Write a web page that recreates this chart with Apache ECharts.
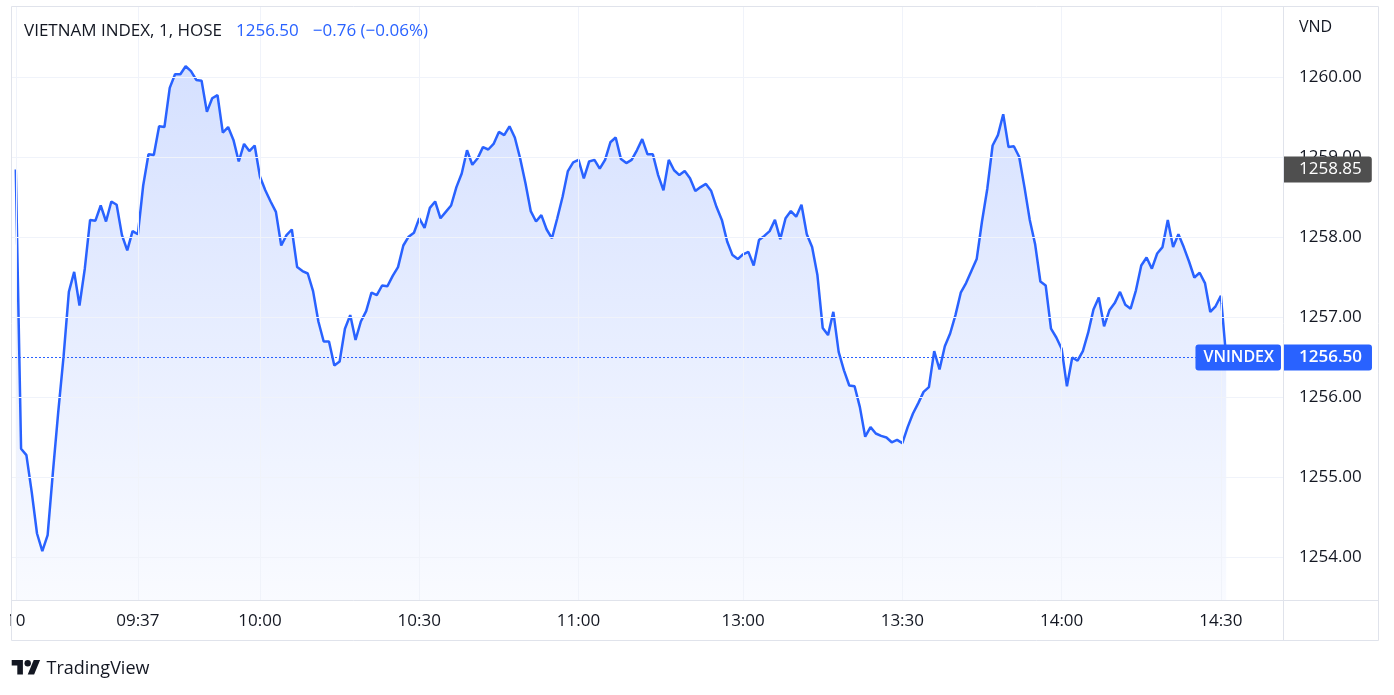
<!DOCTYPE html>
<html>
<head>
<meta charset="utf-8">
<script src="https://cdn.jsdelivr.net/npm/echarts@6/dist/echarts.min.js"></script>
<style>
  html, body { margin: 0; padding: 0; background: #ffffff; }
  #chart { width: 1394px; height: 695px; }
</style>
</head>
<body>
<div id="chart"></div>
<script>
// ---- data (1-minute closes, VN-Index, HOSE) ----
// morning: 09:00 (ATO) then 09:15 .. 11:30
const morningValues = [
  1258.85,
  1255.36, 1255.28, 1254.82, 1254.30, 1254.08, 1254.28, 1255.07, 1255.82, 1256.51, 1257.32,
  1257.57, 1257.15, 1257.61, 1258.22, 1258.21, 1258.40, 1258.20, 1258.45, 1258.41, 1258.03,
  1257.84, 1258.08, 1258.04, 1258.65, 1259.04, 1259.03, 1259.39, 1259.38, 1259.87, 1260.04,
  1260.04, 1260.14, 1260.08, 1259.97, 1259.96, 1259.57, 1259.74, 1259.78, 1259.31, 1259.38,
  1259.22, 1258.95, 1259.17, 1259.08, 1259.15, 1258.76, 1258.59, 1258.45, 1258.32, 1257.90,
  1258.03, 1258.10, 1257.63, 1257.58, 1257.55, 1257.33, 1256.95, 1256.70, 1256.70, 1256.40,
  1256.45, 1256.86, 1257.03, 1256.72, 1256.95, 1257.08, 1257.31, 1257.28, 1257.40, 1257.39,
  1257.52, 1257.63, 1257.90, 1258.01, 1258.06, 1258.24, 1258.12, 1258.37, 1258.45, 1258.24,
  1258.32, 1258.40, 1258.63, 1258.80, 1259.09, 1258.91, 1258.99, 1259.13, 1259.10, 1259.17,
  1259.32, 1259.28, 1259.39, 1259.25, 1258.99, 1258.68, 1258.33, 1258.20, 1258.28, 1258.10,
  1257.99, 1258.24, 1258.51, 1258.83, 1258.94, 1258.97, 1258.74, 1258.95, 1258.97, 1258.86,
  1258.97, 1259.19, 1259.25, 1258.98, 1258.93, 1258.97, 1259.09, 1259.23, 1259.04, 1259.04,
  1258.78, 1258.59, 1258.97, 1258.84, 1258.78, 1258.83, 1258.74, 1258.58, 1258.63, 1258.67,
  1258.58, 1258.38, 1258.22, 1257.95, 1257.78, 1257.73
];
// afternoon: 13:00 .. 14:30 then 14:45 (ATC)
const afternoonValues = [
  1257.79, 1257.82, 1257.65, 1257.97, 1258.02, 1258.08, 1258.22, 1257.98, 1258.24, 1258.33,
  1258.26, 1258.41, 1258.04, 1257.88, 1257.53, 1256.87, 1256.78, 1257.07, 1256.57, 1256.34,
  1256.15, 1256.14, 1255.88, 1255.51, 1255.63, 1255.55, 1255.52, 1255.50, 1255.44, 1255.47,
  1255.43, 1255.63, 1255.80, 1255.93, 1256.07, 1256.13, 1256.58, 1256.35, 1256.64, 1256.80,
  1257.03, 1257.31, 1257.43, 1257.58, 1257.73, 1258.20, 1258.61, 1259.15, 1259.28, 1259.54,
  1259.13, 1259.14, 1259.01, 1258.63, 1258.22, 1257.92, 1257.45, 1257.40, 1256.86, 1256.75,
  1256.61, 1256.14, 1256.50, 1256.46, 1256.58, 1256.81, 1257.10, 1257.25, 1256.89, 1257.09,
  1257.18, 1257.32, 1257.16, 1257.11, 1257.34, 1257.65, 1257.75, 1257.61, 1257.80, 1257.88,
  1258.22, 1257.88, 1258.04, 1257.88, 1257.70, 1257.50, 1257.56, 1257.43, 1257.07, 1257.14,
  1257.27,
  1256.50
];
const prevClose = 1257.26;
const symbolTitle = 'VIETNAM INDEX, 1, HOSE';
const tagName = 'VNINDEX';
const currency = 'VND';
const dayLabel = '10';

// time axis: one slot per bar (lunch break and pre-open collapsed)
function clock(h, m) { return String(h).padStart(2, '0') + ':' + String(m).padStart(2, '0'); }
function minuteRange(h0, m0, h1, m1) {
  const out = [];
  for (let t = h0 * 60 + m0; t <= h1 * 60 + m1; t++) out.push(clock(Math.floor(t / 60), t % 60));
  return out;
}
const times = ['09:00'].concat(minuteRange(9, 15, 11, 30), minuteRange(13, 0, 14, 30), ['14:45']);
const values = morningValues.concat(afternoonValues);

const xTickTimes  = ['09:00', '09:37', '10:00', '10:30', '11:00', '13:00', '13:30', '14:00', '14:30'];
const xTickLabels = [dayLabel, '09:37', '10:00', '10:30', '11:00', '13:00', '13:30', '14:00', '14:30'];
const yTicks = [1254, 1255, 1256, 1257, 1258, 1259, 1260];

// ---- build ----
const FONT = '"Open Sans", "Noto Sans", sans-serif';
const TEXT = '#131722';
const BLUE = '#2962ff';
const GRID = '#f0f3fa';
const FRAME = '#e0e3eb';
const CLEAR = 'rgba(0,0,0,0)';

const seriesData = values.map((v, i) => [i, v]);
const xTickIdx = xTickTimes.map(t => times.indexOf(t));
const labelOf = {};
xTickIdx.forEach((ix, k) => { labelOf[ix] = xTickLabels[k]; });

const last = values[values.length - 1];
const first = values[0];
const change = last - prevClose;
const pct = change / prevClose * 100;
const fmtSigned = v => (v < 0 ? '\u2212' : '+') + Math.abs(v).toFixed(2);

const chart = echarts.init(document.getElementById('chart'), null, { renderer: 'canvas' });

const gridLines = xTickIdx.map(ix => ({ xAxis: ix })).concat(yTicks.map(v => ({ yAxis: v })));

const tagLabel = {
  show: true, fontFamily: FONT, fontSize: 17, lineHeight: 18, color: '#ffffff'
};

chart.setOption({
  animation: false,
  backgroundColor: '#ffffff',
  title: {
    left: 24, top: 20, padding: 0,
    text: '{n|' + symbolTitle + '}{p|' + last.toFixed(2) + '}{p|' + fmtSigned(change) + ' (' + fmtSigned(pct) + '%)}',
    textStyle: {
      fontWeight: 'normal',
      rich: {
        n: { fontFamily: FONT, fontSize: 17, fontWeight: 'normal', color: TEXT, lineHeight: 22 },
        p: { fontFamily: FONT, fontSize: 17, fontWeight: 'normal', color: BLUE, padding: [0, 0, 0, 14], lineHeight: 22 }
      }
    }
  },
  grid: { left: 11, right: 111, top: 6.5, bottom: 94.5, containLabel: false },
  xAxis: {
    type: 'value',
    min: -0.9, max: 238.7,
    axisLine: { show: false },
    axisTick: { show: false },
    splitLine: { show: false },
    axisLabel: {
      customValues: xTickIdx,
      formatter: v => labelOf[v] || '',
      color: TEXT, fontFamily: FONT, fontSize: 17, margin: 12
    }
  },
  yAxis: {
    type: 'value',
    position: 'right',
    min: 1253.4625, max: 1260.8875,
    scale: true,
    axisLine: { show: false },
    axisTick: { show: false },
    splitLine: { show: false },
    axisLabel: {
      customValues: yTicks,
      formatter: v => Number(v).toFixed(2),
      color: TEXT, fontFamily: FONT, fontSize: 17, margin: 16, align: 'left'
    }
  },
  series: [
    {
      name: 'grid', type: 'line', data: [], z: 1, silent: true,
      markLine: {
        silent: true, symbol: 'none', animation: false,
        label: { show: false },
        lineStyle: { color: GRID, width: 1, type: 'solid' },
        data: gridLines
      }
    },
    {
      name: tagName, type: 'line', z: 3,
      data: seriesData,
      showSymbol: false, symbol: 'none',
      lineStyle: { color: BLUE, width: 2.5 },
      areaStyle: {
        origin: 'start',
        color: new echarts.graphic.LinearGradient(0, 0, 0, 1, [
          { offset: 0, color: 'rgba(41, 98, 255, 0.28)' },
          { offset: 1, color: 'rgba(41, 98, 255, 0.04)' }
        ])
      },
      markLine: {
        silent: true, symbol: 'none', animation: false,
        data: [
          {
            yAxis: first,
            lineStyle: { color: CLEAR, width: 1, type: 'solid' },
            label: Object.assign({}, tagLabel, {
              position: 'end', distance: 0,
              formatter: first.toFixed(2),
              backgroundColor: '#4f4f4f',
              padding: [4, 10, 4, 16], borderRadius: [0, 3, 3, 0]
            })
          },
          {
            yAxis: last,
            lineStyle: { color: BLUE, type: [2, 2], width: 1, opacity: 1 },
            label: Object.assign({}, tagLabel, {
              position: 'end', distance: 0,
              formatter: last.toFixed(2), fontWeight: 600,
              backgroundColor: BLUE,
              padding: [4, 10, 4, 16], borderRadius: [0, 3, 3, 0]
            })
          },
          {
            yAxis: last,
            lineStyle: { color: CLEAR, width: 1, type: 'solid' },
            label: Object.assign({}, tagLabel, {
              position: 'insideEnd', distance: 2,
              formatter: tagName, fontWeight: 600, fontSize: 16,
              backgroundColor: BLUE,
              padding: [4, 7, 4, 8], borderRadius: 3
            })
          }
        ]
      }
    }
  ],
  graphic: [
    // outer frame and pane separators
    { type: 'rect', z: 50, silent: true, shape: { x: 11.5, y: 6.5, width: 1367, height: 634 }, style: { fill: null, stroke: FRAME, lineWidth: 1 } },
    { type: 'line', z: 50, silent: true, shape: { x1: 11.5, y1: 600.5, x2: 1378.5, y2: 600.5 }, style: { stroke: FRAME, lineWidth: 1 } },
    { type: 'line', z: 50, silent: true, shape: { x1: 1283.5, y1: 6.5, x2: 1283.5, y2: 640.5 }, style: { stroke: FRAME, lineWidth: 1 } },
    // clip area left of the frame (first label is cut in the original)
    { type: 'rect', z: 40, silent: true, shape: { x: 0, y: 601, width: 10, height: 40 }, style: { fill: '#ffffff' } },
    // currency
    { type: 'text', z: 50, silent: true, x: 1299, y: 27, style: { text: currency, fill: TEXT, font: '16px ' + FONT, textVerticalAlign: 'middle' } },
    // TradingView logo
    {
      type: 'group', x: 11.7, y: 656.8, scaleX: 0.8, scaleY: 0.8, silent: true, z: 50,
      children: [
        { type: 'polygon', shape: { points: [[14, 22], [7, 22], [7, 11], [0, 11], [0, 4], [14, 4]] }, style: { fill: TEXT } },
        { type: 'polygon', shape: { points: [[28, 22], [20, 22], [27.5, 4], [35.5, 4]] }, style: { fill: TEXT } },
        { type: 'circle', shape: { cx: 20, cy: 8, r: 4 }, style: { fill: TEXT } }
      ]
    },
    { type: 'text', z: 50, silent: true, x: 46.5, y: 668.5, style: { text: 'TradingView', fill: TEXT, font: '18px ' + FONT, textVerticalAlign: 'middle' } }
  ]
});
</script>
</body>
</html>
